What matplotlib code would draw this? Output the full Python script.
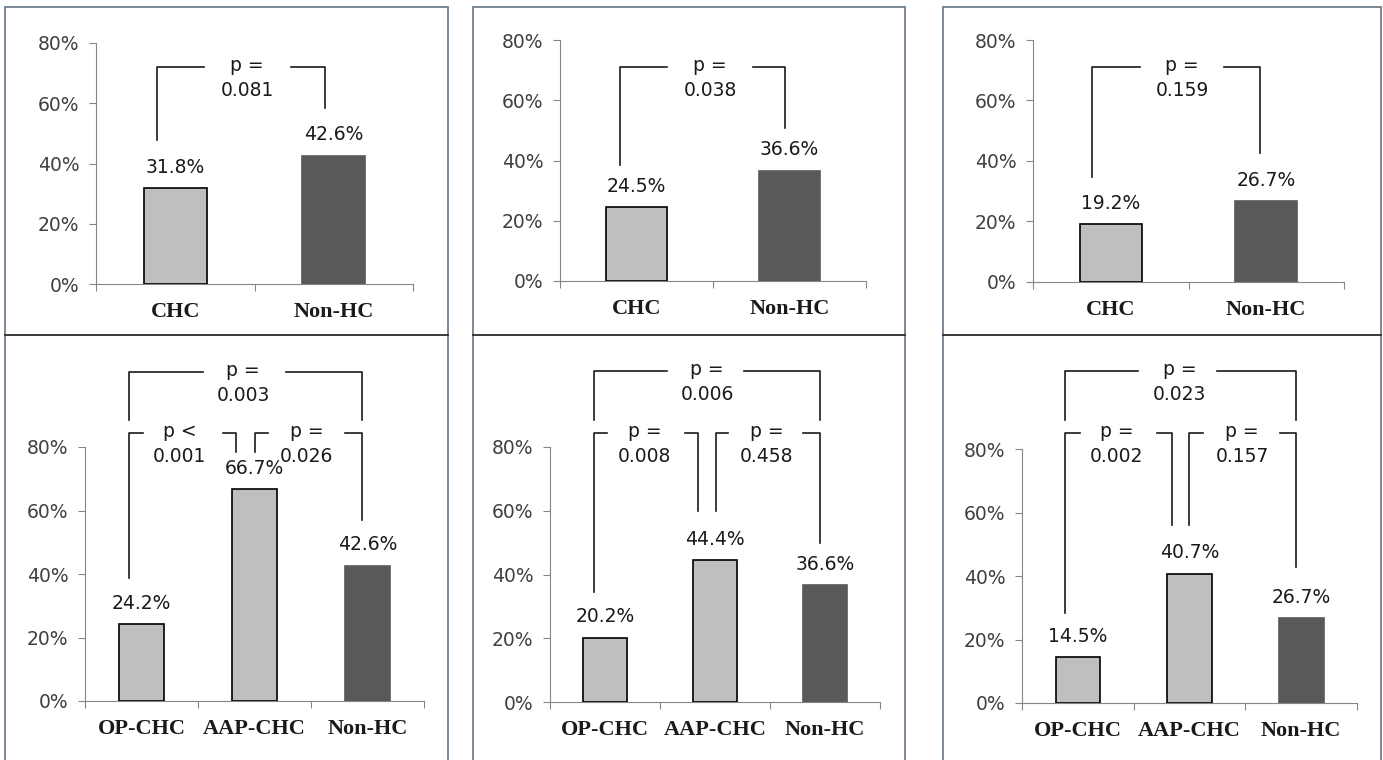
import matplotlib
matplotlib.use("Agg")
import matplotlib.pyplot as plt
from matplotlib.patches import Rectangle

# data
top_cats = ["CHC", "Non-HC"]
bottom_cats = ["OP-CHC", "AAP-CHC", "Non-HC"]
top_vals = [[31.8, 42.6], [24.5, 36.6], [19.2, 26.7]]
bottom_vals = [[24.2, 66.7, 42.6], [20.2, 44.4, 36.6], [14.5, 40.7, 26.7]]
top_p = ["0.081", "0.038", "0.159"]
outer_p = ["0.003", "0.006", "0.023"]
left_sign = ["<", "=", "="]
left_p = ["0.001", "0.008", "0.002"]
right_p = ["0.026", "0.458", "0.157"]
yticks = [0, 20, 40, 60, 80]

W, H = 1383, 760
LIGHT = "#bfbfbf"
DARK = "#595959"

# axes boxes in pixels: x0, x1, y(80%), y(0%)
top_boxes = [(96, 413, 43, 284), (560, 866, 40, 281), (1033, 1344, 40, 282)]
bot_boxes = [(85, 424, 447, 701), (550, 880, 447, 702), (1022, 1357, 449, 703)]

# brackets: xl, xr, ytop, yl_end, yr_end, gap_l, gap_r, text_x
top_br = [(-0.115, 0.945, 72.0, 47.8, 58.4, 0.181, 0.73, 0.453),
          (-0.108, 0.97, 71.0, 38.5, 50.8, 0.20, 0.76, 0.48),
          (-0.12, 0.96, 71.1, 34.7, 42.6, 0.19, 0.73, 0.46)]
outer_br = [(-0.11, 1.95, 103.6, 88.5, 88.5, 0.546, 1.28, 0.90),
            (-0.10, 1.955, 103.8, 88.5, 88.5, 0.564, 1.26, 0.93),
            (-0.115, 1.953, 104.6, 89.1, 89.1, 0.54, 1.25, 0.91)]
inl_br = [(-0.11, 0.836, 84.4, 38.7, 78.4, 0.013, 0.72, 0.34),
          (-0.10, 0.845, 84.4, 34.6, 59.8, 0.018, 0.727, 0.36),
          (-0.115, 0.84, 85.0, 28.3, 56.0, 0.02, 0.71, 0.35)]
inr_br = [(1.0, 1.95, 84.4, 78.4, 57.0, 1.12, 1.80, 1.46),
          (1.01, 1.955, 84.4, 59.8, 50.0, 1.118, 1.80, 1.47),
          (0.995, 1.953, 85.0, 56.0, 42.8, 1.12, 1.81, 1.47)]

fig = plt.figure(figsize=(W / 100, H / 100), dpi=100)
fig.patch.set_facecolor("white")

# panel frames
frame_col = "#6f7f8f"
for x0, x1 in [(5, 448), (473, 905), (943, 1381)]:
    fig.add_artist(Rectangle((x0 / W, -0.01), (x1 - x0) / W, 1.01 - 7 / H,
                             transform=fig.transFigure, fill=False,
                             edgecolor=frame_col, lw=1.3))
    fig.add_artist(plt.Line2D([x0 / W, x1 / W], [1 - 335 / H, 1 - 335 / H],
                              transform=fig.transFigure, color="#2b2b2b", lw=1.3))


def bracket(ax, br, sign, pval):
    xl, xr, y, yl, yr, gl, gr, xt = br
    kw = dict(color="#1a1a1a", lw=1.2, clip_on=False)
    ax.plot([xl, xl, gl], [yl, y, y], **kw)
    ax.plot([gr, xr, xr], [y, y, yr], **kw)
    ax.annotate("p " + sign, (xt, y), xytext=(0, 1), textcoords="offset points",
                ha="center", va="center", fontsize=13.5, color="#1a1a1a",
                annotation_clip=False)
    ax.annotate(pval, (xt, y), xytext=(0, -17), textcoords="offset points",
                ha="center", va="center", fontsize=13.5, color="#1a1a1a",
                annotation_clip=False)


def panel(box, cats, vals):
    x0, x1, yt, yb = box
    ax = fig.add_axes([x0 / W, 1 - yb / H, (x1 - x0) / W, (yb - yt) / H])
    n = len(cats)
    xs = list(range(n))
    colors = [LIGHT] * (n - 1) + [DARK]
    edges = ["black"] * (n - 1) + [DARK]
    ax.bar(xs, vals, width=0.4, color=colors, edgecolor=edges, linewidth=1.2, zorder=3)
    for x, v in zip(xs, vals):
        ax.annotate(f"{v:.1f}%", (x, v), xytext=(0, 15), textcoords="offset points",
                    ha="center", va="center", fontsize=13.5, color="#1a1a1a")
    ax.set_xlim(-0.5, n - 0.5)
    ax.set_ylim(0, 80)
    ax.set_yticks(yticks)
    ax.set_yticklabels([f"{t}%" for t in yticks], fontsize=13.5, color="#404040")
    ax.set_xticks([i - 0.5 for i in range(n + 1)])
    ax.set_xticklabels([""] * (n + 1))
    ax.set_xticks(xs, minor=True)
    ax.set_xticklabels(cats, minor=True, fontsize=16, fontweight="bold",
                       family="Liberation Serif", color="#1a1a1a")
    ax.tick_params(axis="x", which="minor", length=0, pad=13)
    ax.tick_params(axis="both", which="major", length=5, color="#868686", direction="out")
    ax.tick_params(axis="y", pad=7)
    for s in ["top", "right"]:
        ax.spines[s].set_visible(False)
    for s in ["left", "bottom"]:
        ax.spines[s].set_color("#868686")
    ax.patch.set_alpha(0)
    return ax


for i in range(3):
    ax = panel(top_boxes[i], top_cats, top_vals[i])
    bracket(ax, top_br[i], "=", top_p[i])
    ax = panel(bot_boxes[i], bottom_cats, bottom_vals[i])
    bracket(ax, outer_br[i], "=", outer_p[i])
    bracket(ax, inl_br[i], left_sign[i], left_p[i])
    bracket(ax, inr_br[i], "=", right_p[i])

fig.savefig("out.png", dpi=100, facecolor="white")
